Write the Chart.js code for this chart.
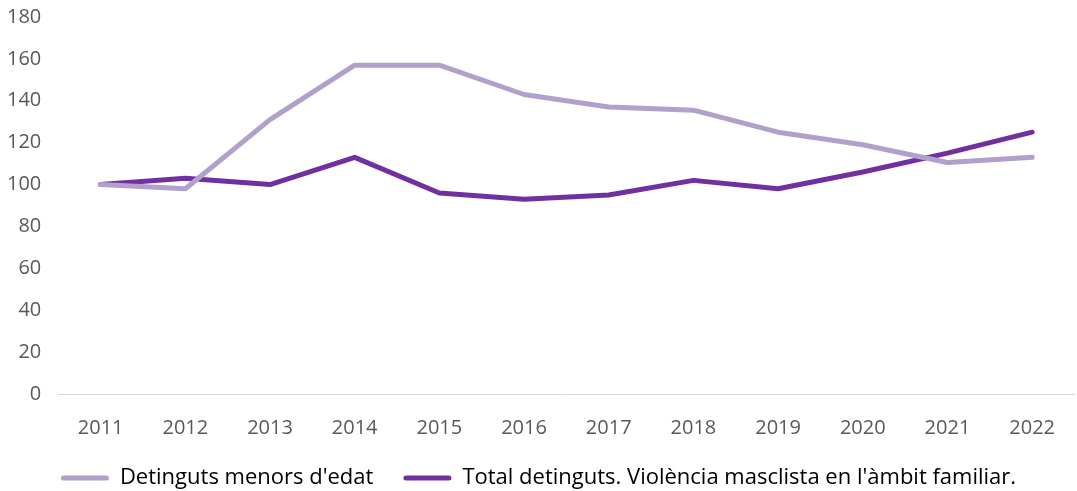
<!DOCTYPE html>
<html>
<head>
<meta charset="utf-8">
<script src="https://cdn.jsdelivr.net/npm/chart.js@4/dist/chart.umd.min.js"></script>
<style>
  html, body { margin: 0; padding: 0; background: #fff; }
  #wrap { width: 1077px; height: 491px; }
</style>
</head>
<body>
<div id="wrap"><canvas id="chart"></canvas></div>
<script>
/* ---------- DATA ---------- */
const years = ['2011','2012','2013','2014','2015','2016','2017','2018','2019','2020','2021','2022'];
const menors = [100, 98, 131, 157, 157, 143, 137, 135.5, 125, 119, 110.5, 113];
const total = [100, 103, 100, 113, 96, 93, 95, 102, 98, 106, 115, 125];
const seriesNames = ["Detinguts menors d'edat", "Total detinguts. Violència masclista en l'àmbit familiar."];
const yTicks = [0, 20, 40, 60, 80, 100, 120, 140, 160, 180];

const LIGHT = '#b1a0cc';
const DARK = '#7030a0';
const FONT = "'Open Sans', 'Noto Sans', sans-serif";

/* ---------- CHART ---------- */
new Chart(document.getElementById('chart'), {
  type: 'line',
  data: {
    labels: years,
    datasets: [
      { label: seriesNames[0], data: menors, borderColor: LIGHT, backgroundColor: LIGHT,
        borderWidth: 5, pointRadius: 0, tension: 0, borderCapStyle: 'round', borderJoinStyle: 'round' },
      { label: seriesNames[1], data: total, borderColor: DARK, backgroundColor: DARK,
        borderWidth: 5, pointRadius: 0, tension: 0, borderCapStyle: 'round', borderJoinStyle: 'round' }
    ]
  },
  options: {
    responsive: true,
    maintainAspectRatio: false,
    animation: false,
    layout: { padding: { top: 0, right: 0, left: 0, bottom: -8 } },
    plugins: {
      tooltip: { enabled: false },
      legend: {
        position: 'bottom',
        labels: {
          boxWidth: 48,
          boxHeight: 5,
          padding: 30,
          color: '#1a1a1a',
          font: { family: FONT, size: 22 },
          generateLabels: chart => chart.data.datasets.map((ds, i) => ({
            text: ds.label, fillStyle: ds.borderColor, strokeStyle: ds.borderColor,
            lineWidth: 0, borderRadius: 2.5, datasetIndex: i, hidden: false
          }))
        }
      }
    },
    scales: {
      x: {
        offset: true,
        grid: { display: false, drawTicks: false },
        border: { display: true, color: '#d9d9d9', width: 1 },
        ticks: { color: '#595959', font: { family: FONT, size: 20 }, padding: 22 },
        afterFit: s => { s.height -= 25; }
      },
      y: {
        min: 0, max: 180,
        afterBuildTicks: axis => { axis.ticks = yTicks.map(v => ({ value: v })); },
        grid: { display: false, drawTicks: false },
        border: { display: false },
        ticks: { color: '#595959', font: { family: FONT, size: 20 }, padding: 17 },
        afterFit: s => { s.width -= 10; s.paddingTop = 17; }
      }
    }
  }
});
</script>
</body>
</html>
